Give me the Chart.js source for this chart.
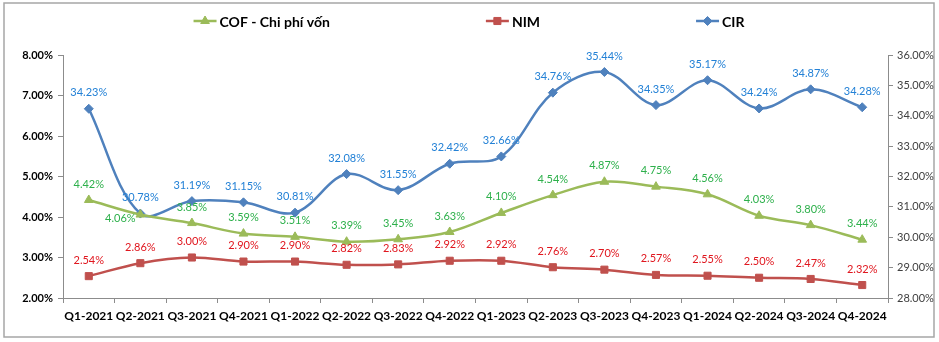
<!DOCTYPE html>
<html>
<head>
<meta charset="utf-8">
<script src="https://cdn.jsdelivr.net/npm/chart.js@4"></script>
<style>
  html, body { margin: 0; padding: 0; background: #fff; }
  #wrap { width: 939px; height: 342px; }
</style>
</head>
<body>
<div id="wrap"><canvas id="rateChart" width="939" height="342"></canvas></div>
<script>
// Quarterly bank ratios
const quarters = ["Q1-2021", "Q2-2021", "Q3-2021", "Q4-2021", "Q1-2022", "Q2-2022", "Q3-2022", "Q4-2022",
    "Q1-2023", "Q2-2023", "Q3-2023", "Q4-2023", "Q1-2024", "Q2-2024", "Q3-2024", "Q4-2024"];
const cof = [4.42, 4.06, 3.85, 3.59, 3.51, 3.39, 3.45, 3.63, 4.10, 4.54, 4.87, 4.75, 4.56, 4.03, 3.80, 3.44];
const nim = [2.54, 2.86, 3.00, 2.90, 2.90, 2.82, 2.83, 2.92, 2.92, 2.76, 2.70, 2.57, 2.55, 2.50, 2.47, 2.32];
const cir = [34.23, 30.78, 31.19, 31.15, 30.81, 32.08, 31.55, 32.42, 32.66, 34.76, 35.44, 34.35, 35.17, 34.24, 34.87, 34.28];

const FONT = "Lato, 'Liberation Sans', sans-serif";

const seriesStyle = [
    { label: "COF - Chi phí vốn", line: "#9bbb59", text: "#2db04b", marker: "triangle", radius: 5 },
    { label: "NIM", line: "#c0504d", text: "#e0161e", marker: "rect", radius: 5 },
    { label: "CIR", line: "#4f81bd", text: "#2381d6", marker: "rectRot", radius: 4.5 },
];

// label offset for a few points that sit beside the marker instead of above it
function labelOffset(ds, i) {
    if (ds === 0 && i === 1) return { dx: -20, dy: 4 };
    return { dx: 0, dy: -16 };
}

const frame = {
    id: "frame",
    beforeDraw(chart) {
        const c = chart.ctx;
        c.save();
        c.fillStyle = "#fff";
        c.fillRect(0, 0, chart.width, chart.height);
        c.strokeStyle = "#a6a6a6";
        c.lineWidth = 1.5;
        c.strokeRect(4, 3, 930, 334);
        c.restore();
    },
};

const valueLabels = {
    id: "valueLabels",
    afterDatasetsDraw(chart) {
        const c = chart.ctx;
        c.save();
        c.font = "11px " + FONT;
        c.textAlign = "center";
        c.textBaseline = "middle";
        chart.data.datasets.forEach((ds, d) => {
            const meta = chart.getDatasetMeta(d);
            c.fillStyle = seriesStyle[d].text;
            meta.data.forEach((pt, i) => {
                const o = labelOffset(d, i);
                c.fillText(ds.data[i].toFixed(2) + "%", pt.x + o.dx, pt.y + o.dy);
            });
        });
        c.restore();
    },
};

// legend drawn as line + marker + bold name, centred over the chart
const lineLegend = {
    id: "lineLegend",
    afterDraw(chart) {
        const c = chart.ctx;
        c.save();
        c.font = "bold 14px " + FONT;
        c.textBaseline = "middle";
        const seg = 23, gap = 156, y = 21;
        const widths = seriesStyle.map(s => seg + 3 + c.measureText(s.label).width);
        const total = widths.reduce((a, b) => a + b, 0) + gap * (widths.length - 1);
        let x = 469 - total / 2;
        seriesStyle.forEach((s, k) => {
            c.strokeStyle = s.line;
            c.lineWidth = 2.5;
            c.beginPath();
            c.moveTo(x, y);
            c.lineTo(x + seg, y);
            c.stroke();
            c.fillStyle = s.line;
            c.lineWidth = 1;
            Chart.helpers.drawPoint(c, { pointStyle: s.marker, radius: s.radius, borderWidth: 1 }, x + seg / 2, y);
            c.fillStyle = "#000";
            c.fillText(s.label, x + seg + 3, y + 1);
            x += widths[k] + gap;
        });
        c.restore();
    },
};

function makeDataset(k, data, axis) {
    const s = seriesStyle[k];
    return {
        label: s.label,
        data: data,
        yAxisID: axis,
        borderColor: s.line,
        backgroundColor: s.line,
        borderWidth: 2.5,
        pointStyle: s.marker,
        pointRadius: s.radius,
        pointBackgroundColor: s.line,
        pointBorderColor: s.line,
        pointBorderWidth: 1,
        tension: 0.35,
    };
}

new Chart(document.getElementById("rateChart"), {
    type: "line",
    data: {
        labels: quarters,
        datasets: [
            makeDataset(0, cof, "yLeft"),
            makeDataset(1, nim, "yLeft"),
            makeDataset(2, cir, "yRight"),
        ],
    },
    options: {
        responsive: false,
        animation: false,
        layout: { padding: { top: 55, left: 0, right: 0, bottom: 0 } },
        plugins: {
            legend: { display: false },
            tooltip: { enabled: false },
        },
        scales: {
            x: {
                offset: true,
                grid: { display: true, drawOnChartArea: false, drawTicks: true, tickLength: 5, color: "#8c8c8c", offset: true },
                border: { display: true, color: "#8c8c8c", width: 1 },
                ticks: { color: "#000", font: { family: FONT, size: 12, weight: "bold" }, padding: 6, maxRotation: 0, autoSkip: false },
                afterFit(scale) { scale.height = 44; },
            },
            yLeft: {
                position: "left",
                min: 2, max: 8,
                ticks: {
                    stepSize: 1,
                    color: "#000",
                    font: { family: FONT, size: 11, weight: "bold" },
                    padding: 5,
                    callback: v => v.toFixed(2) + "%",
                },
                grid: { display: true, drawOnChartArea: false, drawTicks: true, tickLength: 5, color: "#8c8c8c" },
                border: { display: true, color: "#8c8c8c", width: 1 },
                afterFit(scale) { scale.width = 63; },
            },
            yRight: {
                position: "right",
                min: 28, max: 36,
                ticks: {
                    stepSize: 1,
                    color: "#404040",
                    font: { family: FONT, size: 11 },
                    padding: 4,
                    callback: v => v.toFixed(2) + "%",
                },
                grid: { display: true, drawOnChartArea: false, drawTicks: true, tickLength: 5, color: "#8c8c8c" },
                border: { display: true, color: "#8c8c8c", width: 1 },
                afterFit(scale) { scale.width = 51; },
            },
        },
    },
    plugins: [frame, valueLabels, lineLegend],
});
</script>
</body>
</html>
